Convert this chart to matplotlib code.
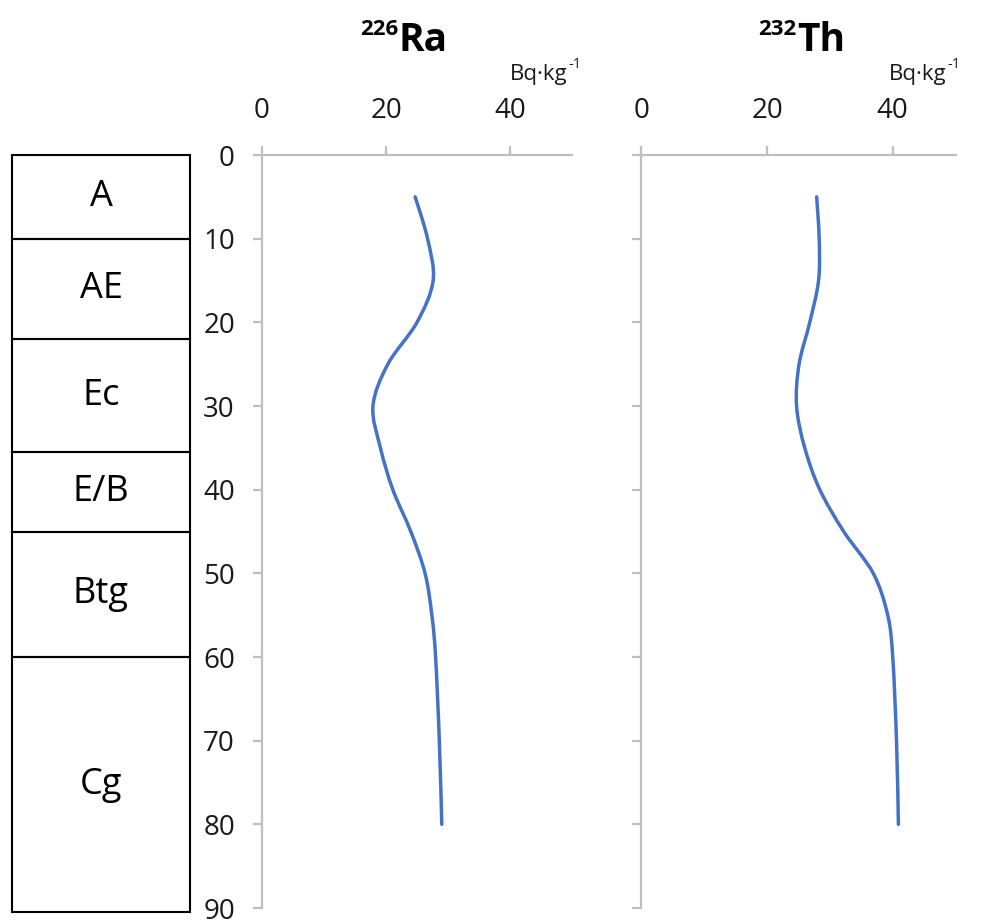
import numpy as np
import matplotlib.pyplot as plt
from matplotlib.path import Path
from matplotlib.patches import PathPatch, Rectangle

plt.rcParams['font.family'] = ['Open Sans', 'DejaVu Sans']

# soil horizons (depth, cm)
horizons = ['A', 'AE', 'Ec', 'E/B', 'Btg', 'Cg']
hor_top = [0, 10, 22, 35.5, 45, 60]
hor_bottom = [10, 22, 35.5, 45, 60, 90.5]

# activity profiles, Bq/kg
depth = [5, 10, 15, 20, 25, 30, 35, 40, 45, 50, 55, 60, 70, 80]
ra226 = [24.7, 26.7, 27.6, 25.0, 20.3, 17.9, 19.1, 21.1, 24.0, 26.3, 27.4, 28.0, 28.6, 29.0]
th232 = [27.9, 28.3, 28.2, 26.8, 25.1, 24.7, 26.0, 28.4, 32.2, 36.9, 39.2, 40.0, 40.6, 40.9]

xticks = [0, 20, 40]
yticks = np.arange(0, 91, 10)

GRID = '#BFBFBF'
LINE = '#4472C4'
TXT = '#1a1a1a'


def smooth_path(xs, ys):
    # excel-like smoothed line: cubic bezier through the points
    pts = np.column_stack([xs, ys]).astype(float)
    p = np.vstack([pts[0], pts, pts[-1]])
    verts = [pts[0]]
    codes = [Path.MOVETO]
    for i in range(1, len(p) - 2):
        c1 = p[i] + (p[i + 1] - p[i - 1]) / 6
        c2 = p[i + 1] - (p[i + 2] - p[i]) / 6
        verts += [c1, c2, p[i + 1]]
        codes += [Path.CURVE4] * 3
    return Path(verts, codes)


fig = plt.figure(figsize=(9.89, 9.21), dpi=100)
H = 753 / 921
B = 1 - 908 / 921

ax_ra = fig.add_axes([262 / 989, B, 310 / 989, H])
ax_th = fig.add_axes([641.3 / 989, B, 314.3 / 989, H])

for ax, vals, show_y in [(ax_ra, ra226, True), (ax_th, th232, False)]:
    ax.add_patch(PathPatch(smooth_path(vals, depth), fill=False,
                           edgecolor=LINE, lw=2.5, capstyle='round'))
    ax.set_xlim(0, 50)
    ax.set_ylim(90, 0)
    ax.xaxis.tick_top()
    ax.set_xticks(xticks)
    ax.set_yticks(yticks)
    for s in ['right', 'bottom']:
        ax.spines[s].set_visible(False)
    for s in ['left', 'top']:
        ax.spines[s].set_color(GRID)
        ax.spines[s].set_linewidth(1.6)
    ax.tick_params(axis='x', direction='out', length=6.5, width=1.6, color=GRID,
                   labelsize=20, pad=15, labelcolor=TXT)
    ax.tick_params(axis='y', direction='out', length=6.5, width=1.6, color=GRID,
                   labelsize=20, pad=13, labelcolor=TXT, labelleft=show_y)
    ax.patch.set_alpha(0)

# titles: isotope number as superscript left of the element
for x0, iso, el in [(399, '226', 'Ra'), (797, '232', 'Th')]:
    fig.text(x0 / 989, 1 - 51 / 921, el, fontsize=28, fontweight='bold',
             ha='left', va='baseline')
    fig.text((x0 - 1) / 989, 1 - 35 / 921, iso, fontsize=16, fontweight='bold',
             ha='right', va='baseline')

# units, with a small raised -1
for x0 in [510, 889]:
    t = fig.text(x0 / 989, 1 - 80 / 921, 'Bq·kg', fontsize=16, ha='left',
                 va='baseline', color=TXT)
    fig.canvas.draw()
    bb = t.get_window_extent(fig.canvas.get_renderer())
    fig.text((bb.x1 + 1) / fig.bbox.width, 1 - 68 / 921, '-1', fontsize=10.5,
             color=TXT, ha='left', va='baseline')

# horizon column
ax_h = fig.add_axes([12 / 989, B, 178 / 989, H])
ax_h.set_xlim(0, 1)
ax_h.set_ylim(90, 0)
ax_h.axis('off')
for name, t, b in zip(horizons, hor_top, hor_bottom):
    ax_h.add_patch(Rectangle((0, t), 1, b - t, fill=False, edgecolor='black',
                             lw=1.5, clip_on=False))
    ax_h.text(0.5, (t + b) / 2, name, fontsize=26, ha='center', va='center')

fig.savefig('out.png', dpi=100)
plt.close()
